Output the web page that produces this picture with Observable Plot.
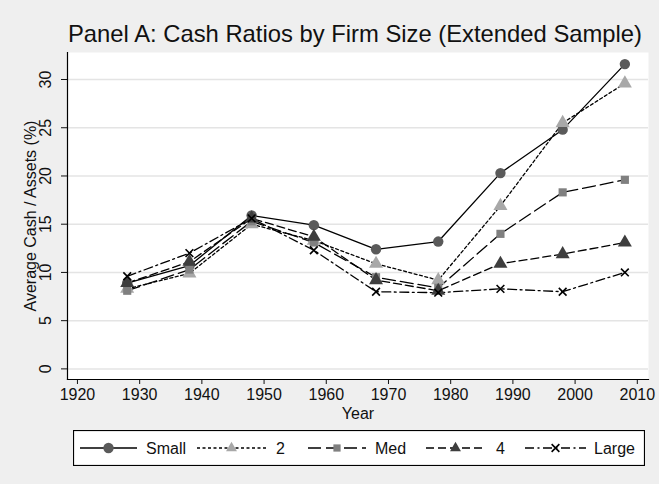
<!DOCTYPE html>
<html>
<head>
<meta charset="utf-8">
<script src="https://cdn.jsdelivr.net/npm/d3@7"></script>
<script src="https://cdn.jsdelivr.net/npm/@observablehq/plot@0.6"></script>
<style>
  html, body { margin: 0; padding: 0; }
  body { width: 659px; height: 484px; background: #efefef; position: relative; overflow: hidden;
         font-family: "Liberation Sans", Arial, sans-serif; }
  #title { position: absolute; left: 60px; width: 590px; top: 20px; text-align: center;
           font-size: 23.8px; line-height: 27px; color: #111; white-space: nowrap; }
  #chart { position: absolute; left: 0; top: 40px; }
  #legend { position: absolute; left: 73px; top: 430px; }
</style>
</head>
<body>
<div id="title">Panel A: Cash Ratios by Firm Size (Extended Sample)</div>
<div id="chart"></div>
<div id="legend"></div>
<script>
const years = [1928, 1938, 1948, 1958, 1968, 1978, 1988, 1998, 2008];
const seriesNames = ["Small", "2", "Med", "4", "Large"];
const small = [8.9, 10.7, 15.9, 14.9, 12.4, 13.2, 20.3, 24.8, 31.6];
const q2    = [8.3, 9.9, 15.0, 13.3, 10.9, 9.2, 16.9, 25.5, 29.6];
const med   = [8.1, 10.3, 15.3, 13.1, 9.5, 8.4, 14.0, 18.3, 19.6];
const q4    = [8.9, 11.1, 15.6, 13.7, 9.2, 8.1, 10.9, 11.9, 13.1];
const large = [9.6, 12.0, 15.6, 12.3, 8.0, 7.9, 8.3, 8.0, 10.0];
const xTicks = [1920, 1930, 1940, 1950, 1960, 1970, 1980, 1990, 2000, 2010];
const yTicks = [0, 5, 10, 15, 20, 25, 30];
const xTitle = "Year";
const yTitle = "Average Cash / Assets (%)";

const values = [small, q2, med, q4, large];
const styles = [
  {symbol: "circle",   fill: "#5a5a5a", dash: null,        r: 5.2},
  {symbol: "triangle", fill: "#a8a8a8", dash: "3,2.5",     r: 5.2},
  {symbol: "square",   fill: "#808080", dash: "13,5",      r: 4.6},
  {symbol: "triangle", fill: "#3e3e3e", dash: "8,4",       r: 5.2},
  {symbol: "times",    fill: "black",   dash: "9,3.5,2,3.5", r: 3.6}
];

const data = [];
seriesNames.forEach((name, i) => {
  years.forEach((yr, j) => data.push({series: name, year: yr, value: values[i][j]}));
});

const marks = [
  Plot.frame({fill: "white", stroke: null}),
  Plot.gridY(yTicks, {stroke: "#e4e4e4", strokeOpacity: 1, strokeWidth: 1.5}),
  Plot.axisY(yTicks, {tickSize: 6, tickFormat: () => "", label: null}),
  Plot.text(yTicks, {frameAnchor: "left", y: d => d, text: d => String(d), rotate: -90,
    textAnchor: "middle", lineAnchor: "middle", dx: -21.5, fontSize: 16, fill: "#111"}),
  Plot.axisX(xTicks, {tickSize: 5, tickPadding: 4, fontSize: 16, tickFormat: d => String(d),
    label: null, fill: "#111"}),
  Plot.text([yTitle], {frameAnchor: "left", rotate: -90, textAnchor: "middle", lineAnchor: "middle",
    dx: -37, fontSize: 16, fill: "#111", text: d => d}),
  Plot.text([xTitle], {frameAnchor: "bottom", lineAnchor: "middle", dy: 34, fontSize: 16, fill: "#111", text: d => d}),
  Plot.frame({anchor: "left", stroke: "black", strokeWidth: 1.2}),
  Plot.frame({anchor: "bottom", stroke: "black", strokeWidth: 1.2})
];

seriesNames.forEach((name, i) => {
  const s = styles[i];
  const d = data.filter(r => r.series === name);
  marks.push(Plot.line(d, {x: "year", y: "value", stroke: "black", strokeWidth: 1.3,
    strokeDasharray: s.dash || undefined}));
});
seriesNames.forEach((name, i) => {
  const s = styles[i];
  const d = data.filter(r => r.series === name);
  if (s.symbol === "times") {
    marks.push(Plot.dot(d, {x: "year", y: "value", symbol: "times", r: s.r, stroke: "black", strokeWidth: 1.6}));
  } else {
    marks.push(Plot.dot(d, {x: "year", y: "value", symbol: s.symbol, r: s.r, fill: s.fill, stroke: "none"}));
  }
});

const chart = Plot.plot({
  width: 659,
  height: 385,
  marginLeft: 67,
  marginRight: 11,
  marginTop: 12,
  marginBottom: 46,
  style: {background: "transparent", fontFamily: "Liberation Sans, Arial, sans-serif", fontSize: "16px", color: "#111"},
  x: {domain: [1918.4, 2011.8], axis: null},
  y: {domain: [-1.1, 32.8], axis: null},
  marks
});
document.getElementById("chart").appendChild(chart);

// Legend (line + marker swatches)
const lw = 572, lh = 36;
const leg = d3.select("#legend").append("svg").attr("width", lw).attr("height", lh)
  .style("display", "block");
leg.append("rect").attr("x", 0.5).attr("y", 0.5).attr("width", lw - 1).attr("height", lh - 1)
  .attr("fill", "white").attr("stroke", "black").attr("stroke-width", 1.2);
const items = [
  {x0: 7,   x1: 64,  tx: 73},
  {x0: 124, x1: 193, tx: 203},
  {x0: 235, x1: 293, tx: 302},
  {x0: 353, x1: 412, tx: 423},
  {x0: 452, x1: 513, tx: 521}
];
const symbolPath = {
  circle: d3.symbol(d3.symbolCircle, Math.PI * 5.2 * 5.2)(),
  triangle: d3.symbol(d3.symbolTriangle2, Math.PI * 5.2 * 5.2)(),
  square: d3.symbol(d3.symbolSquare2, Math.PI * 4.6 * 4.6)(),
  times: d3.symbol(d3.symbolTimes, Math.PI * 3.6 * 3.6)()
};
items.forEach((it, i) => {
  const s = styles[i];
  const cy = lh / 2;
  const g = leg.append("g");
  g.append("line").attr("x1", it.x0).attr("x2", it.x1).attr("y1", cy).attr("y2", cy)
    .attr("stroke", "black").attr("stroke-width", 1.3)
    .attr("stroke-dasharray", s.dash || null);
  const cx = (it.x0 + it.x1) / 2;
  const p = g.append("path").attr("d", symbolPath[s.symbol]).attr("transform", `translate(${cx},${cy})`);
  if (s.symbol === "times") p.attr("fill", "none").attr("stroke", "black").attr("stroke-width", 1.6);
  else p.attr("fill", s.fill);
  g.append("text").attr("x", it.tx).attr("y", cy).attr("dy", "0.35em")
    .attr("font-size", 16).attr("fill", "#111")
    .attr("font-family", "Liberation Sans, Arial, sans-serif").text(seriesNames[i]);
});
</script>
</body>
</html>
